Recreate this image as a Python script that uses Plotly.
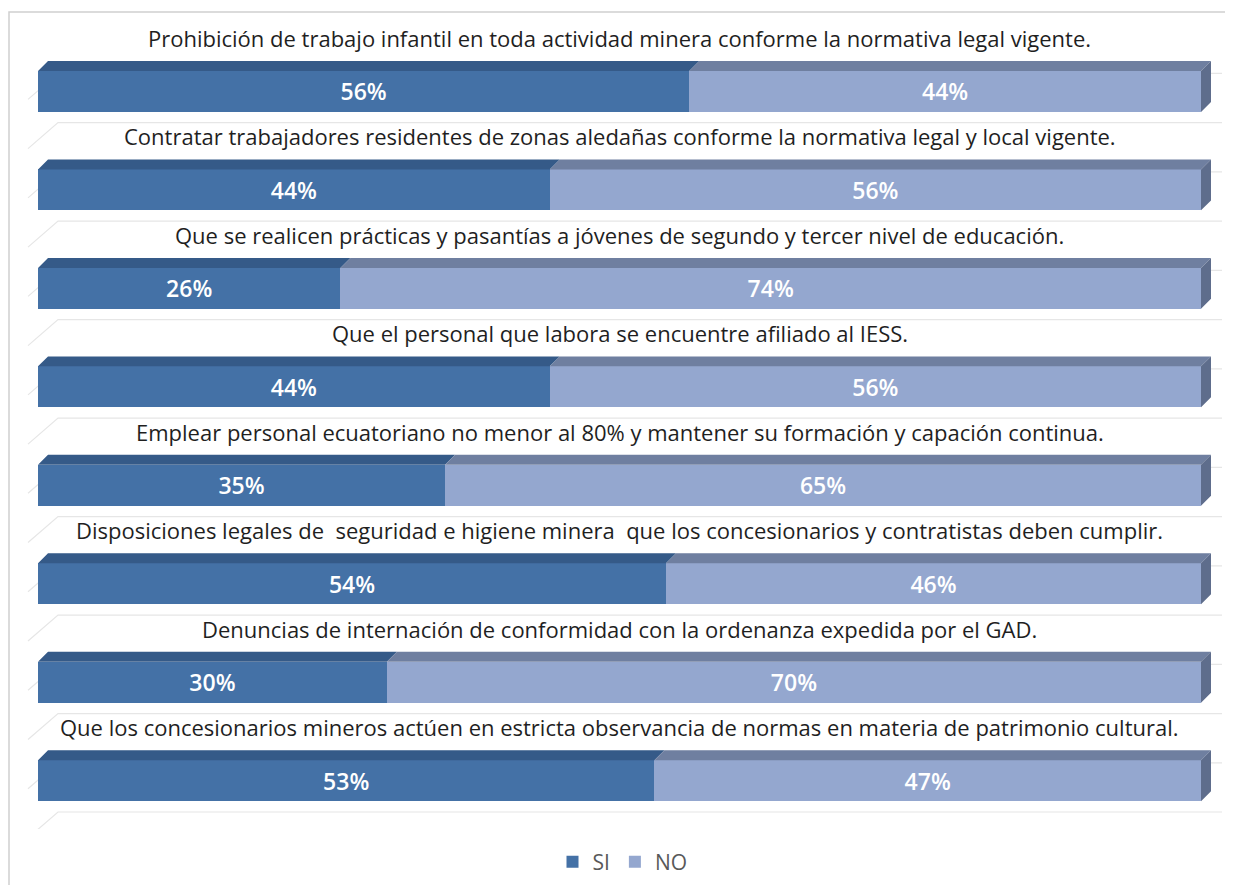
import plotly.graph_objects as go

categories = [
    "Prohibición de trabajo infantil en toda actividad minera conforme la normativa legal vigente.",
    "Contratar trabajadores residentes de zonas aledañas conforme la normativa legal y local vigente.",
    "Que se realicen prácticas y pasantías a jóvenes de segundo y tercer nivel de educación.",
    "Que el personal que labora se encuentre afiliado al IESS.",
    "Emplear personal ecuatoriano no menor al 80% y mantener su formación y capación continua.",
    "Disposiciones legales de  seguridad e higiene minera  que los concesionarios y contratistas deben cumplir.",
    "Denuncias de internación de conformidad con la ordenanza expedida por el GAD.",
    "Que los concesionarios mineros actúen en estricta observancia de normas en materia de patrimonio cultural.",
]
si_values = [56, 44, 26, 44, 35, 54, 30, 53]
no_values = [44, 56, 74, 56, 65, 46, 70, 47]
series_names = ["SI", "NO"]

# ---- layout constants (page pixels) ----
W, H = 1233, 885
PAGE_OFF = 8              # page body margin
PL, PR, PT, PB = 20, 1225, 20, 830   # plot area in page pixels
PX_PER_X = 11.63          # pixels per percentage point
PX_PER_Y = 98.6           # pixels per category step
X0_PX = 38                # page pixel of value 0
Y0_PX = 91.5              # page pixel of first category centre

plot_w = PR - PL
plot_h = PB - PT
x_min = -(X0_PX - PL) / PX_PER_X
x_max = x_min + plot_w / PX_PER_X
y_top = -(Y0_PX - PT) / PX_PER_Y
y_bot = y_top + plot_h / PX_PER_Y

BAR_W = 41 / PX_PER_Y
DX = 10 / PX_PER_X
DY = 10 / PX_PER_Y

SI_FRONT, SI_TOP = "#4471A6", "#355A88"
NO_FRONT, NO_TOP, NO_SIDE = "#94A7CF", "#6F7FA0", "#5E6D8C"

ypos = list(range(len(categories)))

fig = go.Figure()

fig.add_trace(go.Bar(
    y=ypos, x=si_values, orientation="h", name=series_names[0],
    marker=dict(color=SI_FRONT, line=dict(width=0)), width=BAR_W,
    text=[f"{v}%" for v in si_values], textposition="inside",
    insidetextanchor="middle",
    textfont=dict(color="white", size=23, family="Open Sans", weight=600),
))
fig.add_trace(go.Bar(
    y=ypos, x=no_values, orientation="h", name=series_names[1],
    marker=dict(color=NO_FRONT, line=dict(width=0)), width=BAR_W,
    text=[f"{v}%" for v in no_values], textposition="inside",
    insidetextanchor="middle",
    textfont=dict(color="white", size=23, family="Open Sans", weight=600),
))

# ---- 3D faces derived from data ----
def top_faces(starts, ends):
    xs, ys = [], []
    for i, (a, b) in enumerate(zip(starts, ends)):
        yt = i - BAR_W / 2
        xs += [a, b, b + DX, a + DX, a, None]
        ys += [yt, yt, yt - DY, yt - DY, yt, None]
    return xs, ys

si_start = [0] * len(si_values)
si_end = si_values
no_start = si_values
no_end = [s + n for s, n in zip(si_values, no_values)]

for (st, en, col) in [(si_start, si_end, SI_TOP), (no_start, no_end, NO_TOP)]:
    xs, ys = top_faces(st, en)
    fig.add_trace(go.Scatter(x=xs, y=ys, mode="lines", fill="toself",
                             fillcolor=col, line=dict(width=0, color=col),
                             showlegend=False, hoverinfo="skip"))

xs, ys = [], []
for i, e in enumerate(no_end):
    yt, yb = i - BAR_W / 2, i + BAR_W / 2
    xs += [e, e + DX, e + DX, e, e, None]
    ys += [yt, yt - DY, yb - DY, yb, yt, None]
fig.add_trace(go.Scatter(x=xs, y=ys, mode="lines", fill="toself",
                         fillcolor=NO_SIDE, line=dict(width=0, color=NO_SIDE),
                         showlegend=False, hoverinfo="skip"))

# ---- 3D wall gridlines ----
shapes = []
g_front_x = (28 - X0_PX) / PX_PER_X
g_back_x = (58 - X0_PX) / PX_PER_X
g_end_x = (1222 - X0_PX) / PX_PER_X
k = 0.0
while k <= len(categories) - 0.5:
    yb = k - 18 / PX_PER_Y
    yf = k + 8 / PX_PER_Y
    shapes.append(dict(type="path", xref="x", yref="y", layer="below",
                       path=f"M {g_front_x},{yf} L {g_back_x},{yb} L {g_end_x},{yb}",
                       line=dict(color="#E6E6E6", width=1.2)))
    k += 0.5

# ---- outer border (left and top) ----
def px_to_paper_x(p):
    return (p - PL) / plot_w

def px_to_paper_y(p):
    return (PB - p) / plot_h

shapes.append(dict(type="path", xref="paper", yref="paper", layer="below",
                   path=f"M {px_to_paper_x(9)},{px_to_paper_y(H + 20)} L {px_to_paper_x(9)},{px_to_paper_y(12)} L {px_to_paper_x(W + 20)},{px_to_paper_y(12)}",
                   line=dict(color="#D0D0D0", width=1.5)))

# ---- category titles ----
annotations = []
for i, c in enumerate(categories):
    annotations.append(dict(
        x=50, y=i - 53.5 / PX_PER_Y, xref="x", yref="y", text=c,
        showarrow=False, xanchor="center", yanchor="middle",
        font=dict(size=22, color="#1F1F1F", family="Open Sans"),
    ))

fig.update_layout(
    width=W, height=H,
    margin=dict(l=PL - PAGE_OFF, r=W - (PR - PAGE_OFF),
                t=PT - PAGE_OFF, b=H - (PB - PAGE_OFF), pad=0),
    barmode="stack",
    paper_bgcolor="white", plot_bgcolor="white",
    xaxis=dict(range=[x_min, x_max], visible=False, fixedrange=True),
    yaxis=dict(range=[y_bot, y_top], visible=False, fixedrange=True),
    shapes=shapes, annotations=annotations,
    showlegend=True,
    legend=dict(orientation="h", x=0.5, xanchor="center",
                y=px_to_paper_y(862), yanchor="middle", traceorder="normal",
                font=dict(size=21, color="#595959", family="Open Sans"),
                itemwidth=30),
    font=dict(family="Open Sans"),
)

fig.write_html("out.html")
